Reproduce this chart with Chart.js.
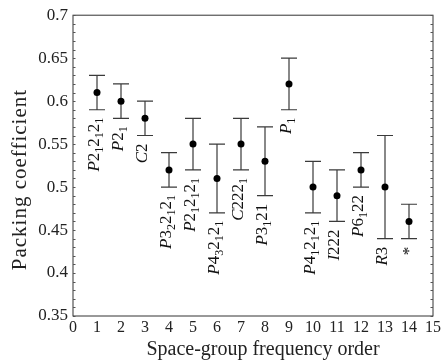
<!DOCTYPE html>
<html>
<head>
<meta charset="utf-8">
<script src="https://cdn.jsdelivr.net/npm/chart.js@4/dist/chart.umd.min.js"></script>
<style>
  html, body { margin: 0; padding: 0; background: #fff; }
  canvas { display: block; }
</style>
</head>
<body>
<canvas id="chart" width="443" height="362"></canvas>
<script>
// ============ DATA ============
const orders = [1, 2, 3, 4, 5, 6, 7, 8, 9, 10, 11, 12, 13, 14];
const means = [0.61, 0.60, 0.58, 0.52, 0.55, 0.51, 0.55, 0.53, 0.62, 0.50, 0.49, 0.52, 0.50, 0.46];
const lows  = [0.59, 0.58, 0.56, 0.50, 0.52, 0.47, 0.52, 0.49, 0.59, 0.47, 0.46, 0.50, 0.44, 0.44];
const highs = [0.63, 0.62, 0.60, 0.54, 0.58, 0.55, 0.58, 0.57, 0.65, 0.53, 0.52, 0.54, 0.56, 0.48];
// "_" marks the next character as a subscript
const groups = ["P2_12_12_1", "P2_1", "C2", "P3_22_12_1", "P2_12_12_1", "P4_32_12_1", "C222_1",
  "P3_121", "P_1", "P4_12_12_1", "I222", "P6_122", "R3", "*"];

const X_MIN = 0, X_MAX = 15;
const Y_MIN = 0.35, Y_MAX = 0.7;
const X_TITLE = "Space-group frequency order";
const Y_TITLE = "Packing coefficient";

const SERIF = "'Liberation Serif', 'DejaVu Serif', serif";
const INK = "#222";

// split a label into runs of {text, sub}
function parseLabel(s) {
  const runs = [];
  for (let i = 0; i < s.length; i++) {
    if (s[i] === "_") { runs.push({ t: s[i + 1], sub: true }); i++; }
    else runs.push({ t: s[i], sub: false });
  }
  return runs;
}

function fontFor(r) {
  if (r.sub) return `12px ${SERIF}`;
  if (/[A-Z]/.test(r.t)) return `italic 17px ${SERIF}`;
  return `17px ${SERIF}`;
}

// ============ PLUGIN: frame, ticks, error bars, labels, titles ============
const decorPlugin = {
  id: "decor",
  beforeDatasetsDraw(chart) {
    const { ctx, chartArea: a, scales: { x, y } } = chart;
    ctx.save();

    // frame
    ctx.strokeStyle = "#333";
    ctx.lineWidth = 1;
    ctx.strokeRect(a.left, a.top, a.right - a.left, a.bottom - a.top);

    // small inward ticks every 0.01 on left and right
    ctx.strokeStyle = "#555";
    for (let k = 0; k <= Math.round((Y_MAX - Y_MIN) / 0.01); k++) {
      const py = Math.round(y.getPixelForValue(Y_MIN + k * 0.01)) + 0.5;
      ctx.beginPath();
      ctx.moveTo(a.left, py); ctx.lineTo(a.left + 2.5, py);
      ctx.moveTo(a.right, py); ctx.lineTo(a.right - 2.5, py);
      ctx.stroke();
    }

    // error bars
    ctx.strokeStyle = "#3a3a3a";
    ctx.lineWidth = 1.2;
    orders.forEach((o, i) => {
      const px = x.getPixelForValue(o);
      const pl = y.getPixelForValue(lows[i]);
      const ph = y.getPixelForValue(highs[i]);
      ctx.beginPath();
      ctx.moveTo(px, pl); ctx.lineTo(px, ph);
      ctx.moveTo(px - 8, pl); ctx.lineTo(px + 8, pl);
      ctx.moveTo(px - 8, ph); ctx.lineTo(px + 8, ph);
      ctx.stroke();
    });

    // rotated space-group labels under each bar
    ctx.fillStyle = "#111";
    ctx.textBaseline = "middle";
    orders.forEach((o, i) => {
      const px = x.getPixelForValue(o) - 2;
      const pl = y.getPixelForValue(lows[i]) + 8;
      const runs = parseLabel(groups[i]);
      let w = 0;
      runs.forEach(r => {
        ctx.font = fontFor(r);
        w += ctx.measureText(r.t).width;
      });
      ctx.save();
      ctx.translate(px, pl);
      ctx.rotate(-Math.PI / 2);
      let cx = -w;
      ctx.textAlign = "left";
      runs.forEach(r => {
        ctx.font = fontFor(r);
        ctx.fillText(r.t, cx, r.sub ? 5 : (r.t === "*" ? 3 : 0));
        cx += ctx.measureText(r.t).width;
      });
      ctx.restore();
    });

    ctx.restore();
  },
  afterDraw(chart) {
    const { ctx, chartArea: a } = chart;
    ctx.save();
    ctx.fillStyle = INK;
    ctx.textAlign = "center";
    ctx.textBaseline = "middle";

    // x title
    ctx.font = `20px ${SERIF}`;
    ctx.fillText(X_TITLE, (a.left + a.right) / 2 + 10, 350);

    // y title, slightly spaced out
    ctx.font = `21px ${SERIF}`;
    if ("letterSpacing" in ctx) ctx.letterSpacing = "1px";
    ctx.translate(20, (a.top + a.bottom) / 2 + 14);
    ctx.rotate(-Math.PI / 2);
    ctx.fillText(Y_TITLE, 0, 0);
    ctx.restore();
  }
};

// ============ CHART ============
new Chart(document.getElementById("chart"), {
  type: "scatter",
  data: {
    datasets: [{
      data: orders.map((o, i) => ({ x: o, y: means[i] })),
      pointRadius: 3.5,
      pointHoverRadius: 3.5,
      backgroundColor: "#000",
      borderColor: "#000",
      borderWidth: 0,
    }]
  },
  options: {
    responsive: false,
    animation: false,
    devicePixelRatio: 1,
    layout: { padding: { top: 14, right: 8, left: 0, bottom: 0 } },
    plugins: { legend: { display: false }, tooltip: { enabled: false } },
    scales: {
      x: {
        type: "linear",
        min: X_MIN,
        max: X_MAX,
        afterFit: (s) => { s.height = 46; },
        grid: { display: false, drawTicks: false },
        border: { display: false },
        ticks: { stepSize: 1, color: INK, padding: 2, font: { family: SERIF, size: 16 } },
      },
      y: {
        min: Y_MIN,
        max: Y_MAX,
        afterFit: (s) => { s.width = 73; },
        grid: { display: false, drawTicks: false },
        border: { display: false },
        ticks: {
          stepSize: 0.05,
          color: INK,
          padding: 5,
          font: { family: SERIF, size: 17 },
          callback: (v) => String(Number(v.toFixed(2))),
        },
      },
    },
  },
  plugins: [decorPlugin],
});
</script>
</body>
</html>
